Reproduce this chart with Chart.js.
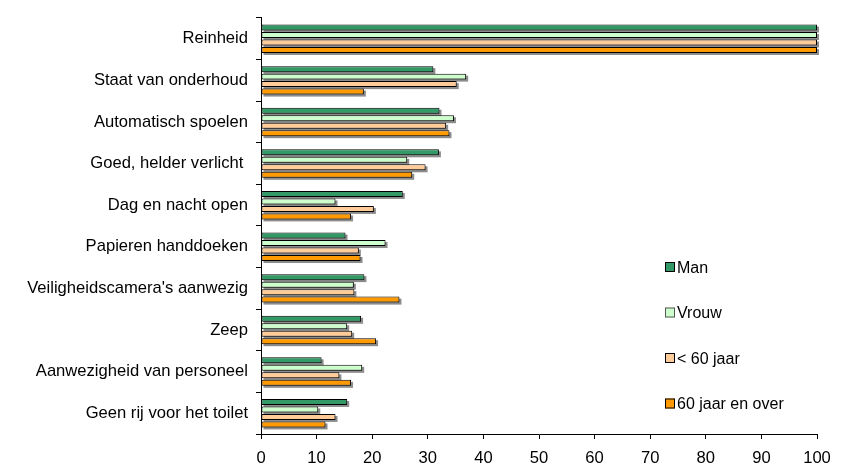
<!DOCTYPE html>
<html lang="nl">
<head>
<meta charset="UTF-8">
<title>Belangrijke aspecten van een openbaar toilet</title>
<script src="https://cdn.jsdelivr.net/npm/chart.js@4.4.1/dist/chart.umd.min.js"></script>
<style>
  html, body { margin: 0; padding: 0; background: #fff; }
  #chart { display: block; }
</style>
</head>
<body>
<canvas id="chart" width="843" height="467"></canvas>
<script>
// categories, top to bottom
const categories = [
  'Reinheid',
  'Staat van onderhoud',
  'Automatisch spoelen',
  'Goed, helder verlicht ',
  'Dag en nacht open',
  'Papieren handdoeken',
  "Veiligheidscamera's aanwezig",
  'Zeep',
  'Aanwezigheid van personeel',
  'Geen rij voor het toilet'
];

// values (%)
const man    = [100, 31.0, 32.1, 32.0, 25.5, 15.2, 18.6, 18.0, 10.9, 15.5];
const vrouw  = [100, 36.9, 34.7, 26.3, 13.4, 22.4, 16.7, 15.5, 18.2, 10.3];
const jonger = [100, 35.2, 33.3, 29.6, 20.3, 17.6, 16.8, 16.4, 14.1, 13.4];
const ouder  = [100, 18.5, 33.9, 27.2, 16.2, 17.9, 24.9, 20.7, 16.2, 11.6];

const seriesLabels = ['Man', 'Vrouw', '< 60 jaar', '60 jaar en over'];
const xTicks = [0, 10, 20, 30, 40, 50, 60, 70, 80, 90, 100];

const FONT = '"Liberation Sans", Arial, sans-serif';
Chart.defaults.font.family = FONT;
Chart.defaults.font.size = 16.6;
Chart.defaults.color = '#000';

function makeSet(label, data, fill) {
  return {
    label: label,
    data: data,
    backgroundColor: fill,
    borderColor: '#000',
    borderWidth: 1,
    borderSkipped: false,
    categoryPercentage: 0.72,
    barPercentage: 0.8
  };
}

// gray drop shadow behind every bar, like the old Excel look
const barShadow = {
  id: 'barShadow',
  beforeDatasetsDraw(chart) {
    const ctx = chart.ctx;
    ctx.save();
    ctx.fillStyle = 'rgba(0,0,0,0.45)';
    chart.data.datasets.forEach((ds, i) => {
      chart.getDatasetMeta(i).data.forEach(bar => {
        const p = bar.getProps(['x', 'y', 'base', 'height'], true);
        ctx.fillRect(p.base + 2, p.y - p.height / 2 + 2, p.x - p.base, p.height);
      });
    });
    ctx.restore();
  }
};

// legend sits inside the plot, right side, stacked with big gaps
const sideLegend = {
  id: 'sideLegend',
  afterDraw(chart) {
    const ctx = chart.ctx;
    const x = 665, box = 10, firstY = 267, step = 45.5;
    ctx.save();
    ctx.font = '16px ' + FONT;
    ctx.textBaseline = 'alphabetic';
    ctx.textAlign = 'left';
    chart.data.datasets.forEach((ds, i) => {
      const cy = firstY + i * step;
      ctx.fillStyle = ds.backgroundColor;
      ctx.fillRect(x, cy - box / 2, box, box);
      ctx.strokeStyle = i === 1 ? '#555' : '#000';
      ctx.lineWidth = 1;
      ctx.strokeRect(x + 0.5, cy - box / 2 + 0.5, box - 1, box - 1);
      ctx.fillStyle = '#000';
      ctx.fillText(ds.label, x + box + 2, cy + 5.7);
    });
    ctx.restore();
  }
};

new Chart(document.getElementById('chart'), {
  type: 'bar',
  data: {
    labels: categories,
    datasets: [
      makeSet(seriesLabels[0], man, '#339966'),
      makeSet(seriesLabels[1], vrouw, '#CCFFCC'),
      makeSet(seriesLabels[2], jonger, '#FFCC99'),
      makeSet(seriesLabels[3], ouder, '#FF9900')
    ]
  },
  options: {
    indexAxis: 'y',
    responsive: false,
    animation: false,
    layout: { padding: { left: 0, right: 26, top: 12, bottom: 0 } },
    plugins: {
      legend: { display: false },
      tooltip: { enabled: false }
    },
    scales: {
      x: {
        type: 'linear',
        min: 0,
        max: 100,
        afterBuildTicks(scale) {
          scale.ticks = xTicks.map(v => ({ value: v }));
        },
        afterFit(scale) { scale.height = 33; },
        border: { color: '#000', width: 1 },
        grid: { drawOnChartArea: false, tickLength: 5, color: '#000' },
        ticks: { padding: 9, color: '#000' }
      },
      y: {
        afterFit(scale) { scale.width = 261; },
        border: { color: '#000', width: 1 },
        grid: { offset: true, drawOnChartArea: false, tickLength: 5, color: '#000' },
        ticks: { padding: 8, color: '#000', autoSkip: false }
      }
    }
  },
  plugins: [barShadow, sideLegend]
});
</script>
</body>
</html>
